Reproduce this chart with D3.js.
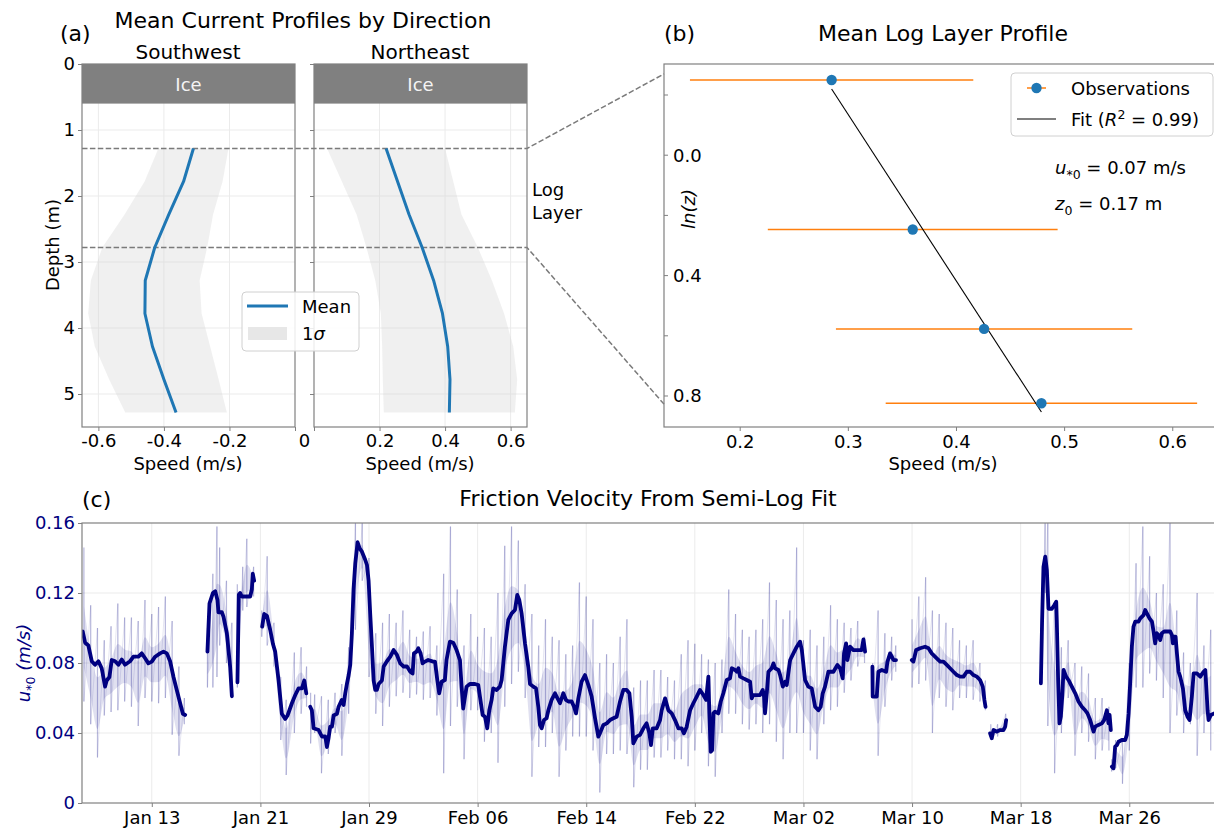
<!DOCTYPE html>
<html>
<head>
<meta charset="utf-8">
<title>Current profiles and friction velocity</title>
<script src="https://cdn.jsdelivr.net/npm/d3@7/dist/d3.min.js"></script>
<style>
  html, body { margin: 0; padding: 0; background: #fff; }
  svg text { font-family: "DejaVu Sans", sans-serif; }
</style>
</head>
<body>
<svg id="fig" width="1214" height="829"></svg>
<script>
// ---------- (a) mean current profiles, 0.5 m depth bins ----------
const depthBins = [1.28, 1.78, 2.28, 2.78, 3.28, 3.78, 4.28, 4.78, 5.28];
const swMean = [-0.31, -0.34, -0.385, -0.428, -0.457, -0.458, -0.435, -0.40, -0.363];
const swStd  = [0.107, 0.119, 0.135, 0.16, 0.166, 0.173, 0.176, 0.167, 0.155];
const neMean = [0.22, 0.255, 0.29, 0.33, 0.365, 0.392, 0.408, 0.415, 0.413];
const neStd  = [0.18, 0.17, 0.16, 0.17, 0.178, 0.188, 0.2, 0.205, 0.2];
const iceDepth = 0.6;
const logLayerDepths = [1.28, 2.78];
const depthTicks = [0, 1, 2, 3, 4, 5];
const swSpeedTicks = [-0.6, -0.4, -0.2, 0];
const neSpeedTicks = [0, 0.2, 0.4, 0.6];

// ---------- (b) log-layer profile and semi-log fit ----------
const obsLnZ   = [-0.25, 0.247, 0.577, 0.824];
const obsSpeed = [0.285, 0.36, 0.426, 0.479];
const obsStd   = [0.131, 0.134, 0.137, 0.144];
const fitSpeed = [0.285, 0.479];
const fitLnZ   = [-0.22, 0.853];
const logLayerLnZ = [-0.27, 0.827];
const lnzTicks = [-0.2, 0, 0.2, 0.4, 0.6, 0.8];
const lnzLabelled = [0, 0.4, 0.8];
const bSpeedTicks = [0.2, 0.3, 0.4, 0.5, 0.6];
const fitR2 = "0.99", ustar0 = "0.07", z0 = "0.17";

// ---------- (c) friction velocity, [day of year, value]; null = data gap ----------
const ustarSmooth = [
  [7.91,0.098],[8.09,0.0916],[8.33,0.090],[8.58,0.081],[8.82,0.079],[9.07,0.081],[9.31,0.077],[9.56,0.0665],
  [9.68,0.070],[9.88,0.072],[10.05,0.0817],[10.30,0.081],[10.54,0.079],[10.79,0.082],[11.03,0.079],[11.40,0.081],
  [11.65,0.0836],[12.02,0.0836],[12.26,0.0855],[12.51,0.0827],[12.75,0.0798],[13.0,0.0808],[13.25,0.0836],
  [13.61,0.0855],[13.86,0.0865],[14.11,0.0855],[14.35,0.081],[14.60,0.072],[14.84,0.0646],[15.09,0.057],
  [15.29,0.051],[15.46,0.0503],
  null,
  [17.10,0.0865],[17.25,0.114],[17.50,0.120],[17.67,0.121],[17.84,0.116],[17.91,0.109],[18.16,0.109],
  [18.28,0.1065],[18.53,0.097],[18.77,0.078],[18.90,0.061],
  null,
  [19.31,0.069],[19.41,0.119],[19.51,0.120],[19.63,0.118],[20.25,0.118],[20.37,0.122],[20.44,0.131],[20.54,0.127],
  null,
  [21.13,0.1008],[21.28,0.108],[21.48,0.107],[21.72,0.099],[21.92,0.091],[22.09,0.0865],[22.34,0.070],
  [22.58,0.051],[22.83,0.048],[23.00,0.050],[23.32,0.057],[23.57,0.0617],[23.81,0.0655],[24.06,0.0655],
  [24.23,0.070],[24.38,0.0627],
  null,
  [24.67,0.055],[24.79,0.053],[24.92,0.0427],[25.29,0.0417],[25.53,0.038],[25.78,0.038],[25.90,0.032],
  [26.02,0.037],[26.14,0.0436],[26.27,0.0436],[26.39,0.050],[26.64,0.051],[26.76,0.055],[27.00,0.0589],
  [27.13,0.056],[27.25,0.0627],[27.37,0.068],[27.50,0.073],[27.62,0.079],[27.74,0.097],[27.86,0.122],
  [27.99,0.137],[28.16,0.149],[28.31,0.1455],[28.48,0.1436],[28.72,0.139],[28.85,0.136],[28.97,0.127],
  [29.09,0.108],[29.22,0.089],[29.34,0.070],[29.46,0.0646],[29.58,0.0646],[29.71,0.068],[29.95,0.070],
  [30.08,0.078],[30.32,0.081],[30.57,0.0836],[30.81,0.0874],[31.06,0.0846],[31.30,0.0798],[31.55,0.078],
  [31.80,0.078],[32.04,0.075],[32.21,0.074],[32.31,0.0855],[32.50,0.0865],[32.63,0.0884],[32.80,0.0855],
  [32.95,0.0798],[33.12,0.0808],[33.36,0.0817],[33.73,0.0808],[33.86,0.0808],[34.03,0.0703],[34.17,0.0627],
  [34.35,0.0693],[34.59,0.0703],[34.71,0.0817],[34.96,0.0922],[35.21,0.0916],[35.45,0.0874],[35.70,0.0817],
  [35.82,0.0665],[35.94,0.054],[36.07,0.0608],[36.19,0.0665],[36.43,0.068],[36.80,0.068],[37.05,0.0674],
  [37.17,0.0608],[37.37,0.0503],[37.54,0.0493],[37.71,0.0427],[37.86,0.053],[38.03,0.0589],[38.15,0.0655],
  [38.40,0.0646],[38.64,0.0665],[38.77,0.0703],[39.01,0.0893],[39.26,0.1046],[39.51,0.1084],[39.75,0.1103],
  [39.92,0.1189],[40.07,0.116],[40.24,0.1084],[40.49,0.0912],[40.73,0.0779],[40.86,0.068],[41.10,0.0665],
  [41.30,0.0655],[41.47,0.055],[41.59,0.0446],[41.72,0.0427],[41.89,0.0474],[42.08,0.0484],[42.21,0.053],
  [42.45,0.0589],[42.70,0.0627],[42.82,0.0608],[43.07,0.057],[43.31,0.0627],[43.51,0.0589],[43.68,0.058],
  [43.93,0.058],[44.10,0.055],[44.25,0.0512],[44.42,0.0598],[44.66,0.0693],[44.91,0.0731],[45.16,0.0674],
  [45.40,0.0608],[45.65,0.0484],[45.89,0.0379],[46.01,0.0398],[46.26,0.0446],[46.51,0.0455],[46.75,0.0474],
  [47.00,0.0484],[47.24,0.0493],[47.49,0.058],[47.73,0.0646],[47.98,0.0646],[48.18,0.0627],[48.35,0.0493],
  [48.47,0.0341],[48.72,0.0379],[48.96,0.0389],[49.21,0.0427],[49.45,0.0455],[49.65,0.0398],[49.77,0.0331],
  [49.90,0.0427],[50.19,0.0427],[50.44,0.0474],[50.56,0.053],[50.81,0.0598],[51.05,0.053],[51.30,0.0512],
  [51.54,0.0474],[51.79,0.0427],[52.03,0.0427],[52.20,0.0398],[52.40,0.0436],[52.65,0.053],[52.89,0.057],
  [53.14,0.0608],[53.38,0.0646],[53.63,0.0617],[53.83,0.0589],[54.00,0.0722],[54.07,0.0512],[54.17,0.0293],
  [54.27,0.0302],[54.37,0.0512],[54.49,0.0522],[54.73,0.0512],[54.91,0.058],[55.10,0.0627],[55.35,0.0703],
  [55.59,0.0712],[55.72,0.077],[55.96,0.076],[56.09,0.075],[56.21,0.077],[56.33,0.0722],[56.58,0.0712],
  [56.82,0.0703],[57.07,0.0693],[57.19,0.0598],[57.31,0.0617],[57.80,0.0617],[58.00,0.0646],[58.10,0.0608],
  [58.17,0.0512],[58.30,0.0627],[58.42,0.075],[58.66,0.077],[58.79,0.0798],[58.91,0.077],[59.16,0.076],
  [59.28,0.0731],[59.48,0.0665],[59.65,0.0693],[59.77,0.0674],[60.02,0.0817],[60.26,0.0855],[60.51,0.0893],
  [60.75,0.0922],[60.88,0.0874],[61.12,0.0703],[61.36,0.0665],[61.61,0.0655],[61.86,0.055],[62.10,0.053],
  [62.27,0.055],[62.42,0.0627],[62.59,0.0665],[62.84,0.075],[63.21,0.075],[63.50,0.0789],[63.70,0.077],
  [63.89,0.0712],[63.99,0.0855],[64.14,0.0912],[64.24,0.0817],[64.43,0.0893],[64.68,0.0874],[65.05,0.0874],
  [65.29,0.0874],[65.42,0.0935],[65.54,0.0865],
  null,
  [66.08,0.0779],[66.10,0.0608],[66.40,0.0608],[66.52,0.075],[66.77,0.076],[67.09,0.075],[67.19,0.0808],
  [67.38,0.0855],[67.51,0.0836],[67.63,0.0817],[67.82,0.0817],
  null,
  [68.98,0.0817],[69.10,0.0808],[69.30,0.0874],[69.59,0.0884],[69.96,0.0893],[70.21,0.0884],[70.45,0.0855],
  [70.82,0.0827],[71.07,0.0808],[71.31,0.0808],[71.56,0.0789],[71.80,0.077],[72.05,0.075],[72.30,0.0731],
  [72.54,0.0722],[72.79,0.0722],[73.03,0.075],[73.28,0.075],[73.52,0.0731],[73.77,0.0722],[74.01,0.0703],
  [74.21,0.0665],[74.33,0.0589],[74.41,0.055],
  null,
  [74.75,0.0398],[74.87,0.037],[75.00,0.0417],[75.24,0.0408],[75.49,0.0417],[75.73,0.0417],[75.86,0.0436],[75.93,0.0474],
  null,
  [78.49,0.0684],[78.58,0.1046],[78.68,0.135],[78.81,0.1408],[78.93,0.133],[79.05,0.111],[79.30,0.111],
  [79.47,0.113],[79.62,0.115],[79.66,0.1046],[79.76,0.0703],[79.86,0.0455],[79.96,0.0493],[80.06,0.0608],
  [80.16,0.076],[80.35,0.0722],[80.52,0.0703],[80.77,0.0665],[81.02,0.0627],[81.26,0.058],[81.51,0.055],
  [81.75,0.053],[81.92,0.0512],[82.12,0.0474],[82.37,0.0408],[82.49,0.0436],[82.73,0.0446],[82.98,0.0455],
  [83.15,0.0474],[83.35,0.053],[83.47,0.0455],[83.55,0.0503],[83.64,0.0417],
  null,
  [83.72,0.0208],[83.84,0.0198],[83.96,0.0322],[84.09,0.0331],[84.21,0.035],[84.45,0.036],[84.70,0.036],
  [84.82,0.0389],[84.95,0.0512],[85.07,0.0693],[85.19,0.0893],[85.31,0.1008],[85.44,0.1036],[85.68,0.1036],
  [85.81,0.1055],[86.05,0.1074],[86.17,0.1103],[86.30,0.1084],[86.49,0.1055],[86.67,0.1036],[86.79,0.0979],
  [86.91,0.0912],[87.03,0.097],[87.16,0.096],[87.28,0.0931],[87.40,0.097],[87.57,0.098],[87.77,0.098],
  [88.02,0.098],[88.14,0.096],[88.21,0.0912],[88.31,0.095],[88.41,0.095],[88.51,0.0855],[88.63,0.075],
  [88.75,0.0722],[88.95,0.0655],[89.12,0.053],[89.29,0.0493],[89.44,0.0474],[89.61,0.0608],[89.74,0.0741],
  [89.98,0.0741],[90.23,0.0722],[90.47,0.075],[90.60,0.076],[90.77,0.053],[90.84,0.0474],[91.01,0.0503],
  [91.26,0.0512],[91.6,0.0512]
];

// raw fits: [day of year, lowest, highest] within each half day; null = data gap
const ustarRaw = [
  [8.0,0.058,0.146],[8.5,0.045,0.113],[9.0,0.026,0.100],[9.5,0.050,0.093],[10.0,0.052,0.101],[10.5,0.053,0.114],
  [11.0,0.058,0.106],[11.5,0.055,0.106],[12.0,0.044,0.104],[12.5,0.060,0.116],[13.0,0.058,0.108],[13.5,0.057,0.112],
  [14.0,0.060,0.118],[14.5,0.039,0.104],[15.0,0.027,0.078],[15.4,0.045,0.060],
  null,
  [17.1,0.066,0.100],[17.5,0.066,0.131],[17.8,0.072,0.158],[18.0,0.090,0.146],[18.5,0.080,0.127],[18.9,0.060,0.103],
  null,
  [19.3,0.066,0.125],[19.7,0.110,0.135],[20.0,0.112,0.151],[20.5,0.118,0.135],
  null,
  [21.1,0.095,0.110],[21.5,0.090,0.141],[22.0,0.078,0.103],[22.5,0.036,0.072],[22.9,0.016,0.059],[23.5,0.040,0.086],
  [24.0,0.051,0.089],[24.4,0.055,0.078],
  null,
  [24.7,0.034,0.063],[25.0,0.040,0.062],[25.5,0.017,0.061],[26.0,0.028,0.059],[26.5,0.040,0.063],[27.0,0.027,0.068],
  [27.5,0.051,0.089],[28.0,0.099,0.160],[28.5,0.127,0.160],[29.0,0.072,0.140],[29.5,0.051,0.097],[30.0,0.044,0.103],
  [30.5,0.055,0.108],[31.0,0.061,0.103],[31.5,0.063,0.110],[32.0,0.060,0.099],[32.5,0.062,0.095],[33.0,0.059,0.098],
  [33.5,0.060,0.101],[34.0,0.050,0.090],[34.5,0.017,0.131],[35.0,0.044,0.158],[35.5,0.055,0.122],[36.0,0.025,0.090],
  [36.5,0.053,0.108],[37.0,0.053,0.095],[37.5,0.035,0.100],[38.0,0.040,0.095],[38.5,0.023,0.120],[39.0,0.055,0.147],
  [39.5,0.068,0.158],[40.0,0.075,0.150],[40.5,0.060,0.125],[41.0,0.015,0.108],[41.5,0.032,0.090],[42.0,0.032,0.105],
  [42.5,0.040,0.095],[43.0,0.015,0.093],[43.5,0.030,0.085],[44.0,0.038,0.090],[44.5,0.038,0.126],[45.0,0.038,0.118],
  [45.5,0.030,0.105],[46.0,0.006,0.080],[46.5,0.028,0.085],[47.0,0.028,0.080],[47.5,0.030,0.095],[48.0,0.028,0.105],
  [48.5,0.009,0.066],[49.0,0.019,0.070],[49.5,0.019,0.070],[50.0,0.026,0.076],[50.5,0.026,0.076],[51.0,0.030,0.072],
  [51.5,0.025,0.070],[52.0,0.025,0.085],[52.5,0.021,0.093],[53.0,0.030,0.091],[53.5,0.040,0.085],[54.0,0.021,0.082],
  [54.5,0.015,0.080],[55.0,0.040,0.082],[55.5,0.051,0.122],[56.0,0.051,0.108],[56.5,0.045,0.099],[57.0,0.042,0.095],
  [57.5,0.045,0.099],[58.0,0.040,0.105],[58.5,0.045,0.126],[59.0,0.035,0.116],[59.5,0.025,0.105],[60.0,0.040,0.110],
  [60.5,0.040,0.146],[61.0,0.040,0.093],[61.5,0.030,0.099],[62.0,0.025,0.090],[62.5,0.045,0.095],[63.0,0.053,0.113],
  [63.5,0.055,0.105],[64.0,0.063,0.103],[64.5,0.070,0.100],[65.0,0.078,0.104],[65.5,0.080,0.095],
  null,
  [66.1,0.060,0.080],[66.5,0.027,0.110],[67.0,0.055,0.097],[67.5,0.070,0.095],[67.8,0.075,0.090],
  null,
  [69.0,0.066,0.105],[69.5,0.068,0.118],[70.0,0.070,0.129],[70.5,0.040,0.110],[71.0,0.060,0.108],[71.5,0.055,0.103],
  [72.0,0.053,0.100],[72.5,0.060,0.093],[73.0,0.060,0.090],[73.5,0.059,0.093],[74.0,0.058,0.080],[74.4,0.053,0.070],
  null,
  [74.8,0.036,0.045],[75.3,0.038,0.045],[75.9,0.042,0.051],
  null,
  [78.5,0.068,0.100],[78.8,0.120,0.160],[79.0,0.044,0.160],[79.5,0.017,0.115],[80.0,0.040,0.089],[80.5,0.060,0.093],
  [81.0,0.027,0.080],[81.5,0.040,0.078],[82.0,0.035,0.074],[82.5,0.025,0.060],[83.0,0.030,0.060],[83.5,0.030,0.055],
  null,
  [83.7,0.018,0.025],[84.0,0.020,0.036],[84.5,0.011,0.036],[85.0,0.030,0.080],[85.5,0.066,0.137],[86.0,0.066,0.158],
  [86.5,0.074,0.141],[87.0,0.070,0.120],[87.5,0.060,0.125],[88.0,0.040,0.160],[88.5,0.050,0.110],[89.0,0.040,0.086],
  [89.5,0.045,0.080],[90.0,0.027,0.120],[90.5,0.040,0.090],[91.0,0.030,0.099]
];
const dateTicks = ["2021-01-13","2021-01-21","2021-01-29","2021-02-06","2021-02-14",
                   "2021-02-22","2021-03-02","2021-03-10","2021-03-18","2021-03-26"];
const ustarTicks = [0, 0.04, 0.08, 0.12, 0.16];

// ---------- drawing ----------
const svg = d3.select("#fig");
const GRAY = "#808080", GRID = "#ebebeb", NAVY = "#000080", BLUE = "#1f77b4", ORANGE = "#ff7f0e";

function txt(g, x, y, s, size, opts = {}) {
  const t = g.append("text").attr("x", x).attr("y", y).attr("font-size", size)
    .attr("dominant-baseline", "central").attr("text-anchor", opts.anchor || "middle")
    .attr("fill", opts.fill || "#000").text(s);
  if (opts.italic) t.attr("font-style", "italic");
  if (opts.rotate) t.attr("transform", `rotate(-90,${x},${y})`);
  return t;
}
// text with italic symbols, subscripts and superscripts (alphabetic baseline)
function rich(g, x, y, parts, opts = {}) {
  const t = g.append("text").attr("x", x).attr("y", y).attr("font-size", 18)
    .attr("text-anchor", opts.anchor || "start").attr("fill", opts.fill || "#000");
  if (opts.rotate) t.attr("transform", `rotate(-90,${x},${y})`);
  let shift = 0;
  parts.forEach(p => {
    const s = t.append("tspan").text(p.t);
    if (p.italic) s.attr("font-style", "italic");
    const target = p.sub ? 5 : p.sup ? -7 : 0;
    if (target !== shift) { s.attr("dy", target - shift); shift = target; }
    if (p.sub || p.sup) s.attr("font-size", 12.5);
  });
  return t;
}
function axisStyle(g, color) {
  g.select(".domain").remove();
  g.selectAll(".tick line").attr("stroke", GRAY).attr("stroke-width", 1);
  g.selectAll(".tick text").attr("font-size", 18).attr("fill", color || "#000");
}
function frame(x0, y0, x1, y1) {
  svg.append("rect").attr("x", x0).attr("y", y0).attr("width", x1 - x0).attr("height", y1 - y0)
    .attr("fill", "none").attr("stroke", GRAY).attr("stroke-width", 1.2);
}

// ===== panel (a) =====
const yD = d3.scaleLinear().domain([0, 5.5]).range([64, 427]);
const xSW = d3.scaleLinear().domain([-0.65, 0]).range([82, 295]);
const xNE = d3.scaleLinear().domain([0, 0.65]).range([314, 527]);
const prof = (means, stds) => depthBins.map((z, i) => ({ z, m: means[i], s: stds[i] }));
const panelsA = [
  { x: xSW, rows: prof(swMean, swStd), ticks: swSpeedTicks },
  { x: xNE, rows: prof(neMean, neStd), ticks: neSpeedTicks }
];
panelsA.forEach(p => {
  const g = svg.append("g");
  const [x0, x1] = p.x.range();
  g.selectAll(null).data(p.ticks.filter(v => v !== 0)).join("line")
    .attr("x1", d => p.x(d)).attr("x2", d => p.x(d)).attr("y1", 64).attr("y2", 427).attr("stroke", GRID);
  g.selectAll(null).data(depthTicks.slice(1)).join("line")
    .attr("x1", x0).attr("x2", x1).attr("y1", d => yD(d)).attr("y2", d => yD(d)).attr("stroke", GRID);
  g.append("path").datum(p.rows)
    .attr("d", d3.area().y(d => yD(d.z)).x0(d => p.x(d.m - d.s)).x1(d => p.x(d.m + d.s)))
    .attr("fill", "#d3d3d3").attr("fill-opacity", 0.35);
  g.append("rect").attr("x", x0).attr("y", yD(0)).attr("width", x1 - x0)
    .attr("height", yD(iceDepth) - yD(0)).attr("fill", "#808080");
  txt(g, (x0 + x1) / 2, (yD(0) + yD(iceDepth)) / 2 + 1, "Ice", 18, { fill: "#f4f4f4" });
});

// log-layer bounds, continued as connectors to panel (b)
const xB = d3.scaleLinear().domain([0.13, 0.646]).range([664, 1222]);
const yB = d3.scaleLinear().domain([-0.303, 0.903]).range([64, 427]);
const dashG = svg.append("g").attr("stroke", "#7a7a7a").attr("stroke-width", 1.5)
  .attr("stroke-dasharray", "5.5,2.4").attr("fill", "none");
logLayerDepths.forEach((z, i) => {
  dashG.append("path").attr("d", d3.line()([
    [xSW(-0.65), yD(z)], [xNE(0.65), yD(z)], [664, yB(logLayerLnZ[i])]
  ]));
});

panelsA.forEach(p => {
  svg.append("path").datum(p.rows)
    .attr("d", d3.line().y(d => yD(d.z)).x(d => p.x(d.m)))
    .attr("fill", "none").attr("stroke", BLUE).attr("stroke-width", 3).attr("stroke-linejoin", "round");
});
frame(82, 64, 295, 427);
frame(314, 64, 527, 427);

svg.append("g").attr("transform", "translate(82,0)")
  .call(d3.axisLeft(yD).tickValues(depthTicks).tickSize(4).tickPadding(3).tickFormat(d3.format("d")))
  .call(axisStyle);
svg.append("g").attr("transform", "translate(314,0)")
  .call(d3.axisLeft(yD).tickValues(depthTicks).tickSize(4).tickFormat(""))
  .call(axisStyle);
svg.append("g").attr("transform", "translate(0,427)")
  .call(d3.axisBottom(xSW).tickValues(swSpeedTicks).tickSize(4).tickPadding(3)
    .tickFormat(d => d === 0 ? "" : String(d)))
  .call(axisStyle);
svg.append("g").attr("transform", "translate(0,427)")
  .call(d3.axisBottom(xNE).tickValues(neSpeedTicks).tickSize(4).tickPadding(3)
    .tickFormat(d => d === 0 ? "" : String(d)))
  .call(axisStyle);
txt(svg, (xSW(0) + xNE(0)) / 2, 440, "0", 18);

txt(svg, 52, 245, "Depth (m)", 18, { rotate: true });
txt(svg, 188, 463, "Speed (m/s)", 18);
txt(svg, 420, 463, "Speed (m/s)", 18);
txt(svg, 188, 52, "Southwest", 20);
txt(svg, 420, 52, "Northeast", 20);
txt(svg, 303, 20, "Mean Current Profiles by Direction", 22);
txt(svg, 60, 33, "(a)", 22, { anchor: "start" });
txt(svg, 532, 189, "Log", 18, { anchor: "start" });
txt(svg, 532, 212, "Layer", 18, { anchor: "start" });

// legend (a)
const legA = svg.append("g");
legA.append("rect").attr("x", 242).attr("y", 292).attr("width", 117).attr("height", 59).attr("rx", 4)
  .attr("fill", "#fff").attr("fill-opacity", 0.85).attr("stroke", "#d0d0d0");
legA.append("line").attr("x1", 247).attr("x2", 288).attr("y1", 306).attr("y2", 306)
  .attr("stroke", BLUE).attr("stroke-width", 3);
legA.append("rect").attr("x", 248).attr("y", 327).attr("width", 39).attr("height", 13)
  .attr("fill", "#d3d3d3").attr("fill-opacity", 0.55);
txt(legA, 302, 306, "Mean", 18, { anchor: "start" });
rich(legA, 302, 339.5, [{ t: "1" }, { t: "σ", italic: true }]);

// ===== panel (b) =====
const gB = svg.append("g");
obsSpeed.forEach((u, i) => {
  gB.append("line").attr("x1", xB(u - obsStd[i])).attr("x2", xB(u + obsStd[i]))
    .attr("y1", yB(obsLnZ[i])).attr("y2", yB(obsLnZ[i])).attr("stroke", ORANGE).attr("stroke-width", 1.5);
});
gB.append("path").attr("d", d3.line()(fitSpeed.map((u, i) => [xB(u), yB(fitLnZ[i])])))
  .attr("stroke", "#000").attr("stroke-width", 1.1).attr("fill", "none");
gB.selectAll(null).data(obsSpeed).join("circle")
  .attr("cx", d => xB(d)).attr("cy", (d, i) => yB(obsLnZ[i])).attr("r", 5.2).attr("fill", BLUE);
frame(664, 64, 1222, 427);
svg.append("g").attr("transform", "translate(0,427)")
  .call(d3.axisBottom(xB).tickValues(bSpeedTicks).tickSize(4).tickPadding(4).tickFormat(d3.format(".1f")))
  .call(axisStyle);
// inward y ticks with labels set inside the frame
gB.selectAll(null).data(lnzTicks).join("line")
  .attr("x1", 664).attr("x2", 668).attr("y1", d => yB(d)).attr("y2", d => yB(d)).attr("stroke", GRAY);
lnzLabelled.forEach(v => txt(gB, 673, yB(v), d3.format(".1f")(v), 18, { anchor: "start" }));
txt(svg, 688, 209, "ln(z)", 18, { rotate: true, italic: true });
txt(svg, 943, 463, "Speed (m/s)", 18);
txt(svg, 943, 33, "Mean Log Layer Profile", 22);
txt(svg, 664, 33, "(b)", 22, { anchor: "start" });
rich(svg, 1055, 174, [{ t: "u", italic: true }, { t: "*0", sub: true }, { t: " = " + ustar0 + " m/s" }]);
rich(svg, 1055, 210, [{ t: "z", italic: true }, { t: "0", sub: true }, { t: " = " + z0 + " m" }]);

const legB = svg.append("g");
legB.append("rect").attr("x", 1011).attr("y", 73).attr("width", 202).attr("height", 63).attr("rx", 4)
  .attr("fill", "#fff").attr("fill-opacity", 0.85).attr("stroke", "#d0d0d0");
legB.append("line").attr("x1", 1027).attr("x2", 1046).attr("y1", 88).attr("y2", 88)
  .attr("stroke", ORANGE).attr("stroke-width", 1.5);
legB.append("circle").attr("cx", 1036.5).attr("cy", 88).attr("r", 5.2).attr("fill", BLUE);
legB.append("line").attr("x1", 1017).attr("x2", 1056).attr("y1", 119).attr("y2", 119)
  .attr("stroke", "#000").attr("stroke-width", 1.1);
txt(legB, 1071, 88, "Observations", 18, { anchor: "start" });
rich(legB, 1071, 125.5, [{ t: "Fit (" }, { t: "R", italic: true }, { t: "2", sup: true }, { t: " = " + fitR2 + ")" }]);

// ===== panel (c) =====
const dayToDate = d => new Date(Date.UTC(2021, 0, 1) + (d - 1) * 864e5);
const xC = d3.scaleUtc().domain([dayToDate(7.86), dayToDate(91.83)]).range([82, 1222]);
const yC = d3.scaleLinear().domain([0, 0.16]).range([803, 523]);
const tickDates = dateTicks.map(d3.utcParse("%Y-%m-%d"));
const gC = svg.append("g");
svg.append("defs").append("clipPath").attr("id", "clipC")
  .append("rect").attr("x", 82).attr("y", 523).attr("width", 1140).attr("height", 280);
gC.selectAll(null).data(tickDates).join("line")
  .attr("x1", d => xC(d)).attr("x2", d => xC(d)).attr("y1", 523).attr("y2", 803).attr("stroke", GRID);
gC.selectAll(null).data(ustarTicks.slice(1, -1)).join("line")
  .attr("x1", 82).attr("x2", 1222).attr("y1", d => yC(d)).attr("y2", d => yC(d)).attr("stroke", GRID);

const plotC = gC.append("g").attr("clip-path", "url(#clipC)");
const rawSegs = [];
let cur = [];
ustarRaw.forEach(r => { if (r) cur.push(r); else { if (cur.length) rawSegs.push(cur); cur = []; } });
if (cur.length) rawSegs.push(cur);
const rx = d => xC(dayToDate(d[0]));
rawSegs.forEach(seg => {
  // dense core of the half-day spread
  plotC.append("path").datum(seg)
    .attr("d", d3.area().curve(d3.curveMonotoneX).x(rx)
      .y0(d => yC(d[1] + (d[2] - d[1]) * 0.22)).y1(d => yC(d[2] - (d[2] - d[1]) * 0.38)))
    .attr("fill", NAVY).attr("fill-opacity", 0.12);
  // full spread of each half-day as a vertical stroke
  plotC.selectAll(null).data(seg).join("line")
    .attr("x1", rx).attr("x2", rx).attr("y1", d => yC(d[1])).attr("y2", d => yC(d[2]))
    .attr("stroke", NAVY).attr("stroke-opacity", 0.2).attr("stroke-width", 1.3);
  // fainter links between successive extremes
  const p = d3.path();
  seg.forEach((d, i) => {
    if (i === 0) p.moveTo(rx(d), yC(d[2])); else p.lineTo(rx(d), yC(d[2]));
    p.lineTo(rx(d), yC(d[1]));
  });
  plotC.append("path").attr("d", p.toString()).attr("fill", "none")
    .attr("stroke", NAVY).attr("stroke-opacity", 0.1).attr("stroke-width", 1);
});
plotC.append("path").datum(ustarSmooth)
  .attr("d", d3.line().defined(d => d !== null).x(d => xC(dayToDate(d[0]))).y(d => yC(d[1])))
  .attr("fill", "none").attr("stroke", NAVY).attr("stroke-width", 3.8)
  .attr("stroke-linejoin", "round").attr("stroke-linecap", "round");
frame(82, 523, 1222, 803);
svg.append("g").attr("transform", "translate(0,803)")
  .call(d3.axisBottom(xC).tickValues(tickDates).tickSize(4).tickPadding(4).tickFormat(d3.utcFormat("%b %d")))
  .call(axisStyle);
svg.append("g").attr("transform", "translate(82,0)")
  .call(d3.axisLeft(yC).tickValues(ustarTicks).tickSize(4).tickPadding(3)
    .tickFormat(d => d === 0 ? "0" : d.toFixed(2)))
  .call(g => axisStyle(g, NAVY));
rich(svg, 29.5, 663, [{ t: "u", italic: true }, { t: "*0", sub: true }, { t: "  (m/s)", italic: true }],
  { anchor: "middle", rotate: true, fill: NAVY });
txt(svg, 648, 498, "Friction Velocity From Semi-Log Fit", 22);
txt(svg, 82, 499, "(c)", 22, { anchor: "start" });
</script>
</body>
</html>
